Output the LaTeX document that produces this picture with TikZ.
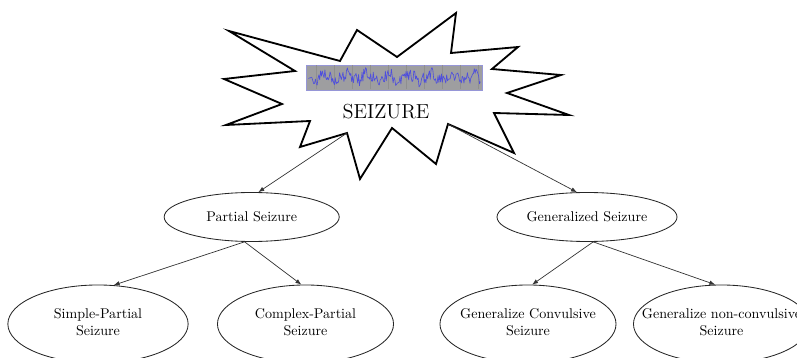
\documentclass[tikz,border=0pt]{standalone}
\usetikzlibrary{arrows.meta,shapes.geometric}
\definecolor{tracecol}{RGB}{78,78,222}
\definecolor{stripcol}{RGB}{158,158,160}
\definecolor{stripedge}{RGB}{150,150,215}
% centred multi-line label that does not widen its node
\newcommand\ctext[1]{\makebox[0pt]{\begin{tabular}{@{}c@{}}#1\end{tabular}}}
\begin{document}
\begin{tikzpicture}[x=0.71pt,y=-0.71pt,
  category/.style={ellipse,draw=black!85,line width=0.6pt,inner sep=0pt,minimum height=34.8pt},
  subtype/.style={ellipse,draw=black!85,line width=0.6pt,inner sep=0pt,minimum height=55.4pt},
  link/.style={draw=black!80,line width=0.5pt,-{Latex[length=4.2pt,width=3.2pt]}},
  burst/.style={draw=black,line width=1.3pt,line join=miter,fill=white},
  eegbox/.style={fill=stripcol,draw=stripedge,line width=0.5pt},
  eeggrid/.style={draw=black!44,line width=0.25pt},
  eegtrace/.style={draw=tracecol,line width=0.45pt,line join=round}
]
\useasboundingbox (0,0) rectangle (797,358);

% explosion outline
\draw[burst] (229,31) -- (340,61) -- (357,30) -- (397,57) -- (456,13) -- (451,53)
  -- (518,47) -- (492,69) -- (561,75) -- (507,93) -- (569,115) -- (494,113)
  -- (514,153) -- (448,124) -- (436,164) -- (392,128) -- (360,179) -- (347,133)
  -- (300,147) -- (310,121) -- (226,125) -- (282,104) -- (224,79) -- (295,71) -- cycle;
\coordinate (burstL) at (347,133);
\coordinate (burstR) at (448,124);

% EEG strip
\draw[eegbox] (306.7,65) rectangle (482.7,90);
\foreach \gx in {316,334,...,480} \draw[eeggrid] (\gx,65.5) -- (\gx,89.5);
\pgfmathsetseed{11}
\draw[eegtrace] plot[domain=0:1,samples=200]
  ({308.5+172*\x},{77.5+6*rand+3*sin(2900*\x)+1.5*sin(7300*\x+40)});

\node (title) at (386,111.5) {\Large SEIZURE};

% seizure categories
\node[category,minimum width=124.3pt] (partial) at (251.7,217) {Partial Seizure};
\node[category,minimum width=127.8pt] (general) at (587,217) {Generalized Seizure};

\node[subtype,minimum width=128pt] (simple)  at (98,324)  {\ctext{Simple-Partial\\Seizure}};
\node[subtype,minimum width=125pt] (complex) at (305.5,324) {\ctext{Complex-Partial\\Seizure}};
\node[subtype,minimum width=125pt] (conv)    at (528,324) {\ctext{Generalize Convulsive\\Seizure}};
\node[subtype,minimum width=125pt] (nonconv) at (721.5,324) {\ctext{Generalize non-convulsive\\Seizure}};

% connectors
\draw[link] (burstL) -- (partial.75.6);
\draw[link] (burstR) -- (general.112.8);
\draw[link] (partial.254.7) -- (simple.68.6);
\draw[link] (partial.254.7) -- (complex.96.6);
\draw[link] (general.284.4) -- (conv.84.6);
\draw[link] (general.284.4) -- (nonconv.99.5);
\end{tikzpicture}
\end{document}
